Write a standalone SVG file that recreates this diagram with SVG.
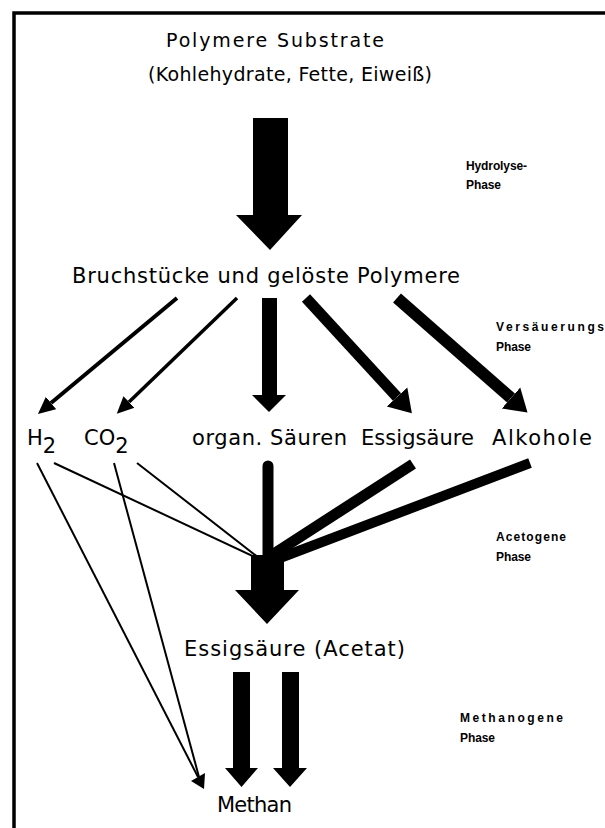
<svg xmlns="http://www.w3.org/2000/svg" width="605" height="828" viewBox="0 0 605 828">
<style>
text{font-family:"DejaVu Sans","Liberation Sans",sans-serif;fill:#000}
.big{font-size:21px}
.title{font-size:19px}
.lab{font-family:"Liberation Sans","DejaVu Sans",sans-serif;font-size:12px;font-weight:bold}
.thin{stroke:#000;fill:none;stroke-width:2}
.blk{fill:#000}
</style>
<defs>
<marker id="headS" markerUnits="userSpaceOnUse" markerWidth="18" markerHeight="18" viewBox="0 -9 18 18" refX="0" refY="0" orient="auto"><path d="M0,-8 L17,0 L0,8 z" fill="#000"/></marker>
<marker id="headL" markerUnits="userSpaceOnUse" markerWidth="24" markerHeight="30" viewBox="0 -15 24 30" refX="0" refY="0" orient="auto"><path d="M0,-14 L22,0 L0,14 z" fill="#000"/></marker>
</defs>
<rect width="605" height="828" fill="#fff"/>
<path d="M14,828 V13 H605" fill="none" stroke="#000" stroke-width="3.5"/>

<g id="node-polymere">
<text class="title" x="166" y="47" textLength="218" lengthAdjust="spacing">Polymere Substrate</text>
<text class="title" x="148" y="81" textLength="284" lengthAdjust="spacing">(Kohlehydrate, Fette, Eiweiß)</text>
</g>
<g id="node-bruchstuecke">
<text class="big" x="72" y="283" textLength="388" lengthAdjust="spacing">Bruchstücke und gelöste Polymere</text>
</g>
<g id="node-h2"><text class="big" x="27" y="445">H<tspan dy="8">2</tspan></text></g>
<g id="node-co2"><text class="big" x="84" y="445">CO<tspan dy="8">2</tspan></text></g>
<g id="node-organ"><text class="big" x="192" y="445" textLength="155" lengthAdjust="spacing">organ. Säuren</text></g>
<g id="node-essig"><text class="big" x="361" y="445" textLength="113" lengthAdjust="spacing">Essigsäure</text></g>
<g id="node-alkohole"><text class="big" x="492" y="445" textLength="100" lengthAdjust="spacing">Alkohole</text></g>
<g id="node-acetat"><text class="big" x="184" y="656" textLength="221" lengthAdjust="spacing">Essigsäure (Acetat)</text></g>
<g id="node-methan"><text class="big" x="217" y="812" textLength="75" lengthAdjust="spacing">Methan</text></g>

<g id="phase-labels">
<text class="lab" x="466" y="170" textLength="61" lengthAdjust="spacing">Hydrolyse-</text>
<text class="lab" x="466" y="189" textLength="35" lengthAdjust="spacing">Phase</text>
<text class="lab" x="496" y="331" textLength="108" lengthAdjust="spacing">Versäuerungs</text>
<text class="lab" x="496" y="351" textLength="35" lengthAdjust="spacing">Phase</text>
<text class="lab" x="496" y="541" textLength="70" lengthAdjust="spacing">Acetogene</text>
<text class="lab" x="496" y="561" textLength="35" lengthAdjust="spacing">Phase</text>
<text class="lab" x="460" y="722" textLength="103" lengthAdjust="spacing">Methanogene</text>
<text class="lab" x="460" y="742" textLength="35" lengthAdjust="spacing">Phase</text>
</g>

<g id="connectors">
<polygon class="blk" points="253,118 288,118 288,215 302,215 270,250 236,215 253,215"/>
<line x1="177" y1="298" x2="51" y2="403" stroke="#000" stroke-width="4" marker-end="url(#headS)"/>
<line x1="237" y1="298" x2="129" y2="402" stroke="#000" stroke-width="3.5" marker-end="url(#headS)"/>
<polygon class="blk" points="262,298 277,298 277,395 286,395 269,412 252,395 262,395"/>
<line x1="306" y1="298" x2="397" y2="397" stroke="#000" stroke-width="11" marker-end="url(#headL)"/>
<line x1="397" y1="298" x2="511" y2="398" stroke="#000" stroke-width="12" marker-end="url(#headL)"/>

<line class="thin" x1="54" y1="463" x2="257" y2="558"/>
<line class="thin" x1="137" y1="463" x2="259" y2="558"/>
<line x1="268" y1="466" x2="268" y2="562" stroke="#000" stroke-width="11" stroke-linecap="round"/>
<line x1="413" y1="464" x2="272" y2="555" stroke="#000" stroke-width="11"/>
<line x1="530" y1="463" x2="280" y2="558" stroke="#000" stroke-width="10"/>
<polygon class="blk" points="251,555 284,555 284,590 299,590 267,624 235,590 251,590"/>

<line class="thin" x1="37" y1="463" x2="198" y2="777"/>
<line class="thin" x1="114" y1="463" x2="199" y2="777"/>
<polygon class="blk" points="191,781 205,773 204,789"/>

<polygon class="blk" points="233,672 250,672 250,768 258,768 241.5,787 225,768 233,768"/>
<polygon class="blk" points="282,672 299,672 299,768 307,768 290,787 273,768 282,768"/>
</g>
</svg>
